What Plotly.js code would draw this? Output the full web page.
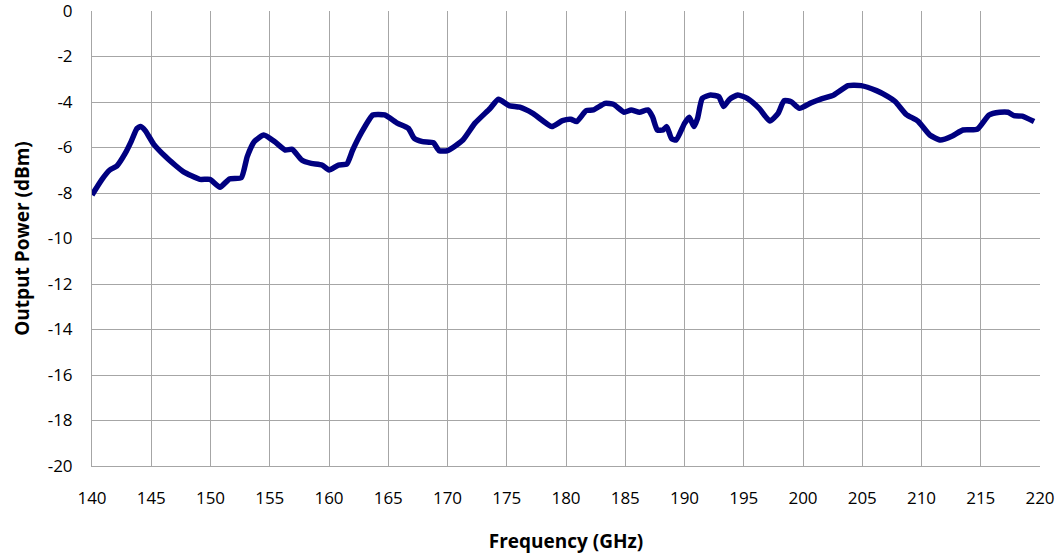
<!DOCTYPE html>
<html>
<head>
<meta charset="utf-8">
<script src="https://cdn.plot.ly/plotly-3.0.1.min.js"></script>
<style>html,body{margin:0;padding:0;background:#fff;}#chart{width:1061px;height:557px;}</style>
</head>
<body>
<div id="chart"></div>
<script>
const frequencyGHz = [140.0,140.8,141.5,142.1,142.8,143.3,143.8,144.1,144.5,145.2,146.2,147.0,147.7,149.1,149.95,150.8,151.6,152.6,153.1,153.7,154.5,155.4,156.3,156.9,157.7,158.5,159.4,160.0,160.8,161.5,162.0,162.7,163.7,164.7,165.8,166.7,167.2,167.9,168.8,169.3,170.0,171.3,172.3,173.6,174.3,175.2,176.1,177.2,178.8,179.7,180.4,180.9,181.7,182.3,183.3,184.0,184.9,185.5,186.2,186.9,187.3,187.7,188.2,188.5,188.9,189.3,190.0,190.4,190.8,191.1,191.5,192.2,192.9,193.3,193.8,194.5,195.3,196.3,197.2,197.9,198.4,199.0,199.7,200.7,201.5,202.6,203.8,204.9,206.2,207.1,207.8,208.7,209.7,210.7,211.6,212.6,213.5,214.7,215.7,216.6,217.3,217.8,218.5,219.5];
const outputPowerDBm = [-8.09,-7.43,-6.99,-6.81,-6.26,-5.74,-5.16,-5.08,-5.26,-5.85,-6.40,-6.77,-7.06,-7.40,-7.40,-7.75,-7.38,-7.33,-6.40,-5.74,-5.45,-5.74,-6.11,-6.08,-6.55,-6.70,-6.77,-6.99,-6.77,-6.73,-6.11,-5.38,-4.57,-4.57,-4.94,-5.16,-5.60,-5.74,-5.79,-6.14,-6.14,-5.67,-4.94,-4.28,-3.88,-4.16,-4.23,-4.50,-5.08,-4.82,-4.76,-4.86,-4.38,-4.35,-4.06,-4.10,-4.45,-4.35,-4.45,-4.35,-4.65,-5.23,-5.23,-5.08,-5.60,-5.67,-4.94,-4.67,-5.08,-4.72,-3.84,-3.69,-3.77,-4.20,-3.88,-3.69,-3.84,-4.28,-4.84,-4.50,-3.94,-3.99,-4.28,-4.03,-3.87,-3.69,-3.28,-3.28,-3.50,-3.74,-3.99,-4.54,-4.84,-5.45,-5.67,-5.49,-5.23,-5.20,-4.57,-4.45,-4.45,-4.60,-4.62,-4.86];
const xTicks = [140,145,150,155,160,165,170,175,180,185,190,195,200,205,210,215,220];
const yTicks = [0,-2,-4,-6,-8,-10,-12,-14,-16,-18,-20];

const trace = {
  x: frequencyGHz, y: outputPowerDBm, type: 'scatter', mode: 'lines',
  line: {color: '#000080', width: 5.5, shape: 'spline', smoothing: 0.5},
  hoverinfo: 'skip'
};
const fontFam = '"Open Sans", sans-serif';
const layout = {
  width: 1061, height: 557,
  margin: {l: 92, r: 21, t: 11, b: 91},
  paper_bgcolor: '#fff', plot_bgcolor: '#fff',
  showlegend: false,
  font: {family: fontFam, size: 16, color: '#000'},
  xaxis: {
    range: [140, 220], tickvals: xTicks, ticktext: xTicks.map(String),
    showgrid: true, gridcolor: '#a6a6a6', gridwidth: 1,
    showline: true, linecolor: '#a6a6a6', linewidth: 1, mirror: false,
    zeroline: false, ticks: '', ticklabelstandoff: 17, ticklabeloverflow: 'allow',
    tickfont: {family: fontFam, size: 17, color: '#000'},
    title: {text: '<b>Frequency (GHz)</b>', font: {family: fontFam, size: 19, color: '#000'}, standoff: 26}
  },
  yaxis: {
    range: [-20, 0], tickvals: yTicks, ticktext: yTicks.map(String),
    showgrid: true, gridcolor: '#a6a6a6', gridwidth: 1,
    showline: true, linecolor: '#a6a6a6', linewidth: 1,
    zeroline: false, ticks: '', ticklabelstandoff: 15, ticklabeloverflow: 'allow',
    tickfont: {family: fontFam, size: 17, color: '#000'},
    title: {text: '<b>Output Power (dBm)</b>', font: {family: fontFam, size: 19, color: '#000'}, standoff: 13}
  }
};
Plotly.newPlot('chart', [trace], layout, {displayModeBar: false, staticPlot: true});
</script>
</body>
</html>
